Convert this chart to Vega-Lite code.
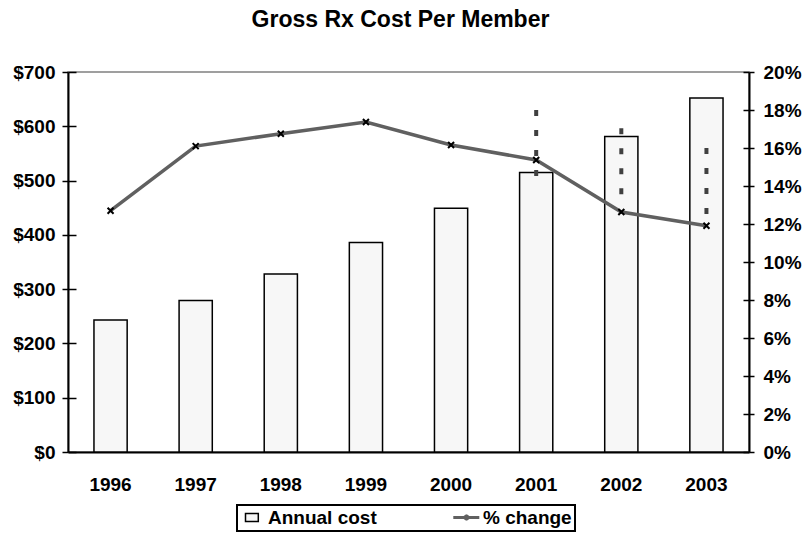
{
  "$schema": "https://vega.github.io/schema/vega-lite/v6.json",
  "autosize": "none",
  "width": 681,
  "height": 380,
  "padding": {"left": 68, "top": 72, "right": 53, "bottom": 83},
  "title": {
    "text": "Gross Rx Cost Per Member",
    "font": "Liberation Sans",
    "fontSize": 23,
    "fontWeight": "bold",
    "color": "black",
    "anchor": "middle",
    "dx": -8,
    "offset": 31
  },
  "config": {
    "font": "Liberation Sans",
    "view": {"stroke": "#808080", "strokeWidth": 1.5},
    "axis": {
      "labelFont": "Liberation Sans",
      "labelFontSize": 19,
      "labelFontWeight": "bold",
      "labelColor": "black",
      "domainColor": "black",
      "domainWidth": 2,
      "tickColor": "black",
      "tickWidth": 1.5,
      "grid": false,
      "title": null
    },
    "legend": {
      "orient": "none",
      "direction": "horizontal",
      "labelFont": "Liberation Sans",
      "labelFontSize": 19,
      "labelFontWeight": "bold",
      "labelColor": "black",
      "labelOffset": 9,
      "padding": 3,
      "symbolSize": 256,
      "symbolOpacity": 1,
      "strokeWidth": 2
    }
  },
  "data": {
    "values": [
      {"year": "1996", "cost": 243, "pct": 0.127, "hi": null, "lo": null},
      {"year": "1997", "cost": 279, "pct": 0.161, "hi": null, "lo": null},
      {"year": "1998", "cost": 328, "pct": 0.1675, "hi": null, "lo": null},
      {"year": "1999", "cost": 386, "pct": 0.1737, "hi": null, "lo": null},
      {"year": "2000", "cost": 449, "pct": 0.1616, "hi": null, "lo": null},
      {"year": "2001", "cost": 515, "pct": 0.1537, "hi": 0.18, "lo": 0.1442},
      {"year": "2002", "cost": 581, "pct": 0.1263, "hi": 0.1704, "lo": 0.134},
      {"year": "2003", "cost": 652, "pct": 0.1191, "hi": 0.16, "lo": 0.1244}
    ]
  },
  "encoding": {
    "x": {
      "field": "year",
      "type": "ordinal",
      "scale": {"paddingInner": 0.61, "paddingOuter": 0.305},
      "axis": {"labelAngle": 0, "ticks": false, "labelPadding": 23}
    }
  },
  "layer": [
    {
      "mark": {"type": "bar", "stroke": "black", "strokeWidth": 1.5},
      "encoding": {
        "y": {
          "field": "cost",
          "type": "quantitative",
          "scale": {"domain": [0, 700], "nice": false},
          "axis": {
            "orient": "left",
            "values": [0, 100, 200, 300, 400, 500, 600, 700],
            "format": "$.0f",
            "tickSize": 6,
            "labelPadding": 7
          }
        },
        "fill": {
          "datum": "Annual cost",
          "scale": {"domain": ["Annual cost"], "range": ["#f7f7f7"]},
          "legend": {
            "legendX": 169,
            "legendY": 433,
            "title": "\u00a0",
            "titleOrient": "right",
            "titleFontSize": 10,
            "titlePadding": 195,
            "symbolType": "M-0.5,-0.5H1.1V0.5H-0.5Z",
            "symbolStrokeColor": "black",
            "symbolStrokeWidth": 1.5,
            "strokeColor": "black"
          }
        }
      }
    },
    {
      "transform": [{"filter": "isValid(datum.hi)"}],
      "mark": {"type": "rule", "color": "#404040", "strokeWidth": 4, "strokeDash": [6, 14]},
      "encoding": {
        "y": {
          "field": "hi",
          "type": "quantitative",
          "scale": {"domain": [0, 0.2], "nice": false},
          "axis": {
            "orient": "left",
            "values": [0, 0.028571, 0.057143, 0.085714, 0.114286, 0.142857, 0.171429, 0.2],
            "labels": false,
            "domain": false,
            "tickSize": -8
          }
        },
        "y2": {"field": "lo"}
      }
    },
    {
      "mark": {"type": "line", "strokeWidth": 3.5},
      "encoding": {
        "y": {
          "field": "pct",
          "type": "quantitative",
          "scale": {"domain": [0, 0.2], "nice": false},
          "axis": {
            "orient": "right",
            "values": [0, 0.02, 0.04, 0.06, 0.08, 0.1, 0.12, 0.14, 0.16, 0.18, 0.2],
            "format": ".0%",
            "tickSize": 5,
            "labelPadding": 9
          }
        },
        "stroke": {
          "datum": "% change",
          "scale": {"domain": ["% change"], "range": ["#606060"]},
          "legend": {
            "legendX": 384,
            "legendY": 433,
            "title": null,
            "symbolType": "M-1.4,0H1.85M0.05,-0.3L0.45,0.3M0.05,0.3L0.45,-0.3",
            "symbolStrokeWidth": 3,
            "symbolFillColor": "transparent"
          }
        }
      }
    },
    {
      "mark": {"type": "point", "shape": "M-1,-1L1,1M-1,1L1,-1", "size": 36, "stroke": "black", "strokeWidth": 2, "filled": false, "opacity": 1},
      "encoding": {
        "y": {
          "field": "pct",
          "type": "quantitative",
          "scale": {"domain": [0, 0.2], "nice": false},
          "axis": {
            "orient": "right",
            "values": [0, 0.02, 0.04, 0.06, 0.08, 0.1, 0.12, 0.14, 0.16, 0.18, 0.2],
            "labels": false,
            "domain": false,
            "tickSize": -6
          }
        }
      }
    }
  ],
  "resolve": {"scale": {"y": "independent"}}
}
